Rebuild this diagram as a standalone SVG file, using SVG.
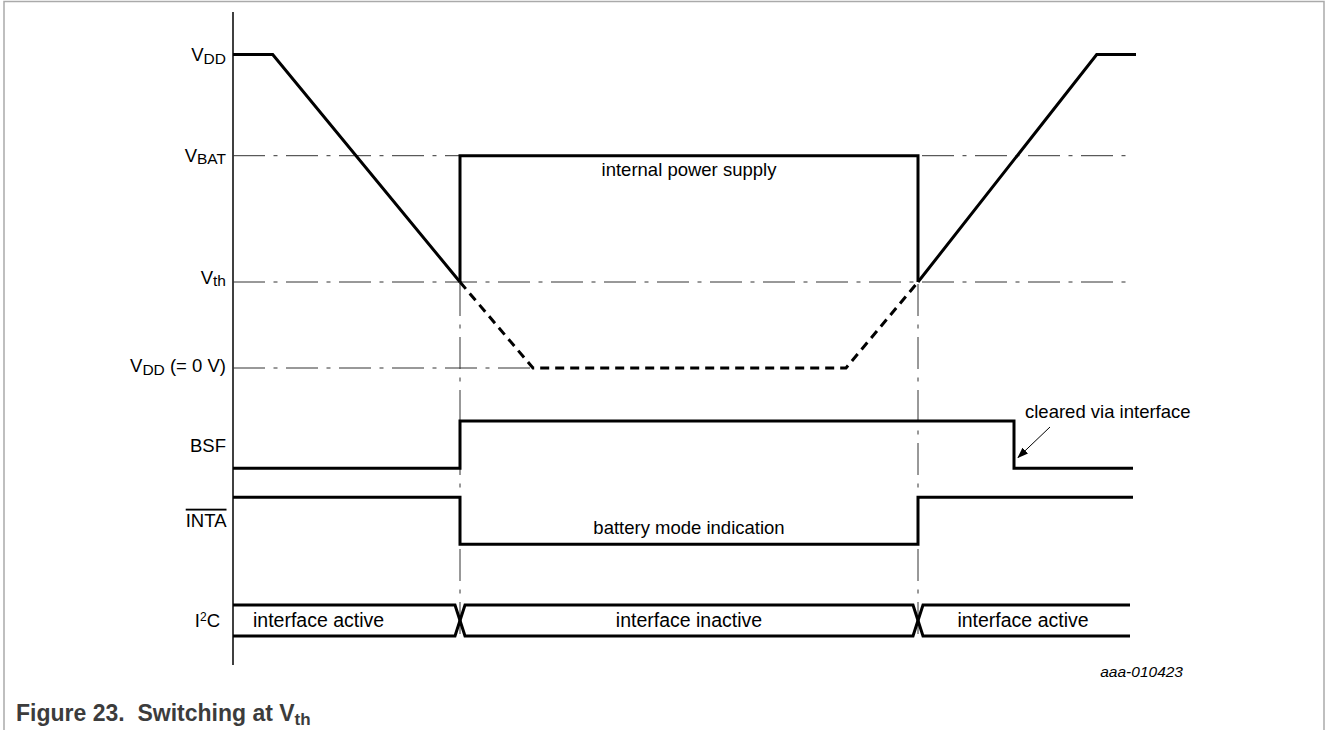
<svg xmlns="http://www.w3.org/2000/svg" width="1327" height="730" viewBox="0 0 1327 730">
<style>
text{font-family:"Liberation Sans",Arial,sans-serif;fill:#000}
.lbl{font-size:18.5px}
.bus{font-size:19.5px}
.sub{font-size:15.5px}
.ref{font-size:15.5px;font-style:italic}
.cap{font-size:23px;font-weight:bold;fill:#3c3c3c}
.dd{fill:none;stroke:#333;stroke-width:1;stroke-dasharray:32 8.5 4 8.5}
.sig{fill:none;stroke:#000;stroke-width:3;stroke-linejoin:miter}
.dsh{fill:none;stroke:#000;stroke-width:3;stroke-dasharray:9 6}
</style>
<defs>
<marker id="ah" markerWidth="11" markerHeight="8" refX="10" refY="4" orient="auto" markerUnits="userSpaceOnUse">
<path d="M0,0 L11,4 L0,8 Z" fill="#000"/>
</marker>
</defs>
<path id="frame" d="M4,730 V1.5 H1324 V730" fill="none" stroke="#aaa" stroke-width="1.5"/>
<g id="axis"><path d="M233,12 V665" stroke="#000" stroke-width="1.5" fill="none"/></g>
<g id="levels">
<path class="dd" d="M233,155.7 H1128"/>
<path class="dd" d="M233,282 H1133"/>
<path class="dd" d="M233,368 H533"/>
<path class="dd" d="M460,284 V640"/>
<path class="dd" d="M918,284 V640"/>
</g>
<g id="vdd">
<path class="sig" d="M233,54.5 H272.7 L460,282"/>
<path class="sig" d="M918,282 L1096.7,54.5 H1136"/>
<path class="dsh" d="M460,282 L533,368 H846 L918,282"/>
</g>
<g id="internal-supply">
<path class="sig" d="M460,282 V155.7 H918 V282"/>
<text class="lbl" x="689" y="176" text-anchor="middle">internal power supply</text>
</g>
<g id="bsf">
<path class="sig" d="M233,468.3 H460 V421 H1014 V468.3 H1133"/>
</g>
<g id="inta">
<path class="sig" d="M233,497.3 H460 V544.3 H918 V497.3 H1133"/>
<text class="lbl" x="689" y="534" text-anchor="middle">battery mode indication</text>
</g>
<g id="i2c">
<path class="sig" d="M233,605 H455 L465,636 H913 L923,605 H1130"/>
<path class="sig" d="M233,636 H455 L465,605 H913 L923,636 H1130"/>
<text class="bus" x="253" y="626.7">interface active</text>
<text class="bus" x="689" y="626.7" text-anchor="middle">interface inactive</text>
<text class="bus" x="1023" y="626.7" text-anchor="middle">interface active</text>
</g>
<g id="labels">
<text class="lbl" x="226" y="61" text-anchor="end">V<tspan class="sub" dy="2.5">DD</tspan></text>
<text class="lbl" x="226" y="161.5" text-anchor="end">V<tspan class="sub" dy="2.5">BAT</tspan></text>
<text class="lbl" x="226" y="283.5" text-anchor="end">V<tspan class="sub" dy="2.5">th</tspan></text>
<text class="lbl" x="226" y="371.7" text-anchor="end">V<tspan class="sub" dy="3.5">DD</tspan><tspan dy="-3.5"> (= 0 V)</tspan></text>
<text class="lbl" x="226" y="452.3" text-anchor="end">BSF</text>
<text class="lbl" x="226.5" y="526.7" text-anchor="end" text-decoration="overline">INTA</text>
<text class="lbl" x="220" y="626.7" text-anchor="end">I<tspan font-size="12" dy="-6">2</tspan><tspan dy="6">C</tspan></text>
</g>
<g id="connectors">
<path d="M1050,427 L1018,457.5" stroke="#000" stroke-width="1" fill="none" marker-end="url(#ah)"/>
</g>
<g id="annotation">
<text class="lbl" x="1025" y="418">cleared via interface</text>
</g>
<text class="ref" x="1183" y="677" text-anchor="end">aaa-010423</text>
<text class="cap" x="16" y="720.7" xml:space="preserve">Figure 23.  Switching at V<tspan font-size="17" dy="4.3">th</tspan></text>
</svg>
